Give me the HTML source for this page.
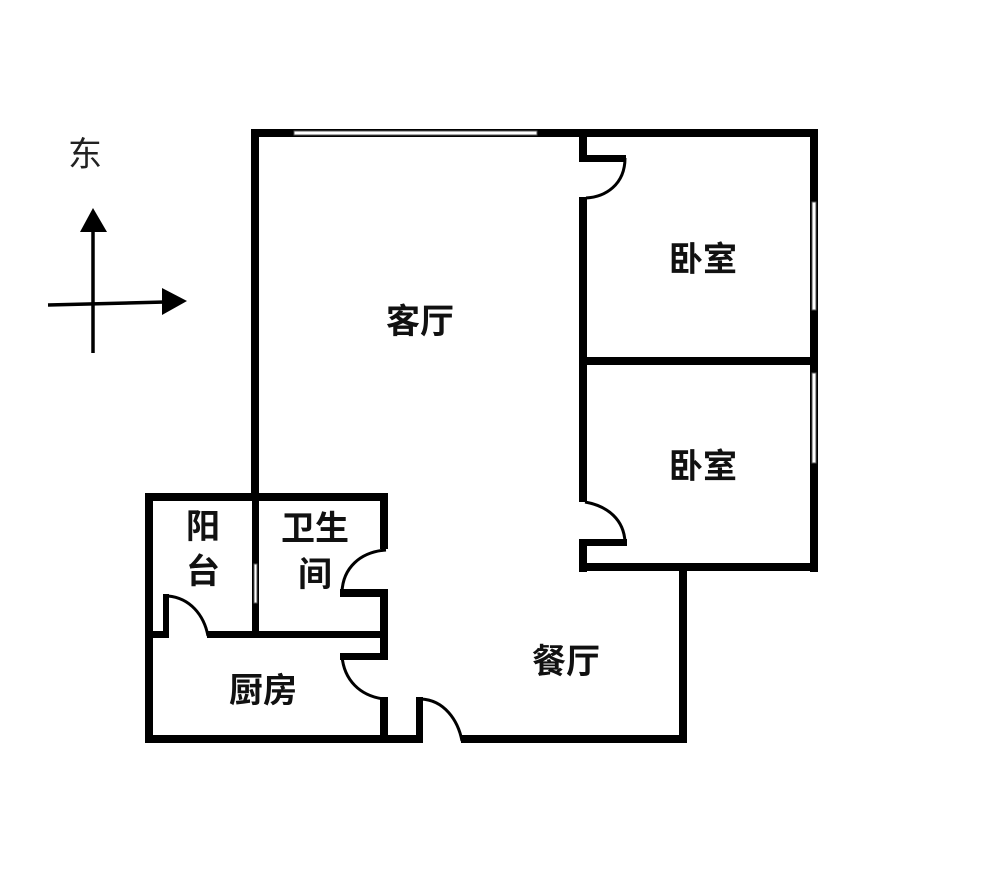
<!DOCTYPE html>
<html><head><meta charset="utf-8"><style>
html,body{margin:0;padding:0;background:#fff;}
svg{display:block}
text{font-family:"Liberation Sans","Noto Sans CJK SC",sans-serif;fill:#111;}
</style></head><body>
<svg width="1000" height="888" viewBox="0 0 1000 888" xmlns="http://www.w3.org/2000/svg">
<rect width="1000" height="888" fill="#fff"/>
<g fill="#000">
<!-- living room -->
<rect x="251" y="129" width="567" height="8"/>
<rect x="251" y="129" width="8" height="372"/>
<!-- divider living/bedrooms -->
<rect x="579" y="129" width="8" height="30"/>
<rect x="579" y="155" width="47" height="7"/>
<rect x="579" y="197" width="8" height="305"/>
<rect x="579" y="539" width="8" height="33"/>
<rect x="579" y="539" width="48" height="7"/>
<!-- right wall -->
<rect x="810" y="129" width="8" height="443"/>
<rect x="587" y="357" width="231" height="8"/>
<rect x="579" y="563" width="239" height="8"/>
<!-- dining right -->
<rect x="679" y="563" width="8" height="179"/>
<!-- bottom wall -->
<rect x="145" y="735" width="277" height="8"/>
<rect x="461" y="735" width="226" height="8"/>
<rect x="416" y="697" width="7" height="46"/>
<!-- bath/balcony block -->
<rect x="145" y="493" width="243" height="8"/>
<rect x="145" y="493" width="8" height="250"/>
<rect x="380" y="493" width="8" height="56"/>
<rect x="340" y="589" width="48" height="8"/>
<rect x="380" y="589" width="8" height="68"/>
<rect x="252" y="493" width="7" height="145"/>
<rect x="145" y="631" width="20" height="7"/>
<rect x="163" y="594" width="6" height="44"/>
<rect x="207" y="631" width="181" height="7"/>
<rect x="340" y="653" width="48" height="7"/>
<rect x="380" y="697" width="8" height="46"/>
</g>
<!-- windows -->
<g fill="#fff" stroke="#555" stroke-width="1">
<rect x="294" y="131" width="243" height="4"/>
<rect x="812" y="202" width="4" height="108"/>
<rect x="812" y="373" width="4" height="90"/>
<rect x="254" y="564" width="3" height="39"/>
</g>
<!-- door arcs -->
<g fill="none" stroke="#000" stroke-width="3">
<path d="M625,158 C625,185 605,197 586,198"/>
<path d="M585,502 C608,506 624,520 625,542"/>
<path d="M386,550 C360,552 343,568 342,592"/>
<path d="M342,656 C344,680 360,696 384,699"/>
<path d="M168,596 C190,598 204,615 208,636"/>
<path d="M421,699 C444,700 458,720 462,741"/>
</g>
<!-- compass -->
<g fill="#000" stroke="#000">
<line x1="93" y1="228" x2="93" y2="353" stroke-width="3.5"/>
<polygon points="93,208 80,232 107,232" stroke="none"/>
<line x1="48" y1="305" x2="165" y2="302" stroke-width="3.5"/>
<polygon points="187,301 162,288 162,315" stroke="none"/>
</g>
<text x="85" y="166" font-size="34" text-anchor="middle" style="fill:#222">东</text>
<g font-size="34" text-anchor="middle" font-weight="bold">
<text x="420" y="333">客厅</text>
<text x="703" y="271">卧室</text>
<text x="703" y="478">卧室</text>
<text x="566" y="673">餐厅</text>
<text x="263" y="702">厨房</text>
<text x="203" y="538">阳</text>
<text x="203" y="583">台</text>
<text x="315" y="540">卫生</text>
<text x="315" y="586">间</text>
</g>
</svg>
</body></html>
